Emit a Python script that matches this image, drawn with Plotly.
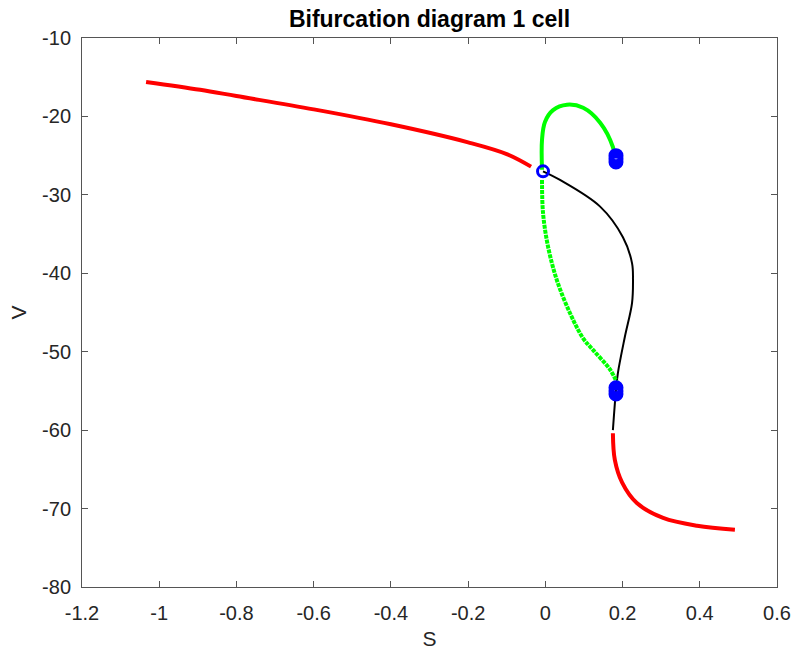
import plotly.graph_objects as go

# Red stable branch (upper left)
red1_S = [-1.034, -0.894, -0.8, -0.6, -0.4, -0.2, -0.1, -0.037]
red1_V = [-15.6, -16.6, -17.4, -19.1, -21.0, -23.3, -24.8, -26.4]

# Black unstable branch
black_S = [-0.006, 0.038, 0.142, 0.201, 0.2245, 0.227, 0.2245, 0.206, 0.188, 0.183, 0.175]
black_V = [-27.0, -28.1, -31.5, -35.4, -38.7, -40.9, -43.8, -48.1, -52.7, -54.9, -60.0]

# Red stable branch (lower right)
red2_S = [0.175, 0.180, 0.199, 0.237, 0.305, 0.393, 0.491]
red2_V = [-60.4, -63.8, -66.7, -69.3, -71.2, -72.2, -72.7]

# Green periodic orbit branch (upper)
green_up_S = [-0.0086, -0.0086, -0.001, 0.020, 0.056, 0.098, 0.142, 0.175, 0.180]
green_up_V = [-26.8, -23.0, -20.7, -19.2, -18.5, -18.9, -20.8, -23.9, -25.3]

# Green periodic orbit branch (lower)
green_lo_S = [-0.0086, -0.006, 0.007, 0.030, 0.064, 0.098, 0.124, 0.168, 0.186]
green_lo_V = [-28.1, -32.3, -36.6, -40.9, -45.1, -48.3, -49.8, -52.3, -54.0]

# Special points
hopf_S = [-0.006]
hopf_V = [-27.0]
lp1_S = [0.183, 0.183, 0.183]
lp1_V = [-25.0, -25.4, -25.8]
lp2_S = [0.183, 0.183, 0.183]
lp2_V = [-54.6, -55.0, -55.4]

x_ticks = [-1.2, -1.0, -0.8, -0.6, -0.4, -0.2, 0.0, 0.2, 0.4, 0.6]
x_labels = ["-1.2", "-1", "-0.8", "-0.6", "-0.4", "-0.2", "0", "0.2", "0.4", "0.6"]
y_ticks = [-80, -70, -60, -50, -40, -30, -20, -10]
y_labels = ["-80", "-70", "-60", "-50", "-40", "-30", "-20", "-10"]

FONT = "Liberation Sans, Arial, sans-serif"

fig = go.Figure()
fig.add_trace(go.Scatter(x=red1_S, y=red1_V, mode="lines",
                         line=dict(color="#ff0000", width=4, shape="spline")))
fig.add_trace(go.Scatter(x=red2_S, y=red2_V, mode="lines",
                         line=dict(color="#ff0000", width=4, shape="spline")))
fig.add_trace(go.Scatter(x=black_S, y=black_V, mode="lines",
                         line=dict(color="#000000", width=2, shape="spline")))
fig.add_trace(go.Scatter(x=green_up_S, y=green_up_V, mode="lines",
                         line=dict(color="#00ff00", width=4, shape="spline")))
fig.add_trace(go.Scatter(x=green_lo_S, y=green_lo_V, mode="lines",
                         line=dict(color="#00ff00", width=4, shape="spline", dash="4px,1px")))
fig.add_trace(go.Scatter(x=hopf_S, y=hopf_V, mode="markers",
                         marker=dict(symbol="circle-open", size=11, color="#0000ff",
                                     line=dict(width=3, color="#0000ff"))))
for s, v in ((lp1_S, lp1_V), (lp2_S, lp2_V)):
    fig.add_trace(go.Scatter(x=s, y=v, mode="markers",
                             marker=dict(symbol="circle-open", size=11, color="#0000ff",
                                         line=dict(width=4, color="#0000ff"))))

axis_common = dict(showline=True, mirror="ticks", linecolor="#555555", linewidth=1,
                   ticks="inside", ticklen=6, tickcolor="#555555", tickwidth=1,
                   showgrid=False, zeroline=False, automargin=False,
                   tickfont=dict(family=FONT, size=20, color="#262626"))

fig.update_layout(
    width=793, height=650,
    margin=dict(l=82, r=16, t=38, b=63),
    paper_bgcolor="white", plot_bgcolor="white",
    showlegend=False,
    title=dict(text="<b>Bifurcation diagram 1 cell</b>", x=0.5, xref="paper", xanchor="center",
               y=1 - 19 / 650, yanchor="middle",
               font=dict(family=FONT, size=23, color="#000000")),
    xaxis=dict(range=[-1.2, 0.6], tickvals=x_ticks, ticktext=x_labels,
               ticklabelstandoff=8,
               title=dict(text="S", standoff=10,
                          font=dict(family=FONT, size=21, color="#262626")),
               **axis_common),
    yaxis=dict(range=[-80, -10], tickvals=y_ticks, ticktext=y_labels,
               ticklabelstandoff=6,
               title=dict(text="V", standoff=9,
                          font=dict(family=FONT, size=21, color="#262626")),
               **axis_common),
)

fig.write_html("out.html")
